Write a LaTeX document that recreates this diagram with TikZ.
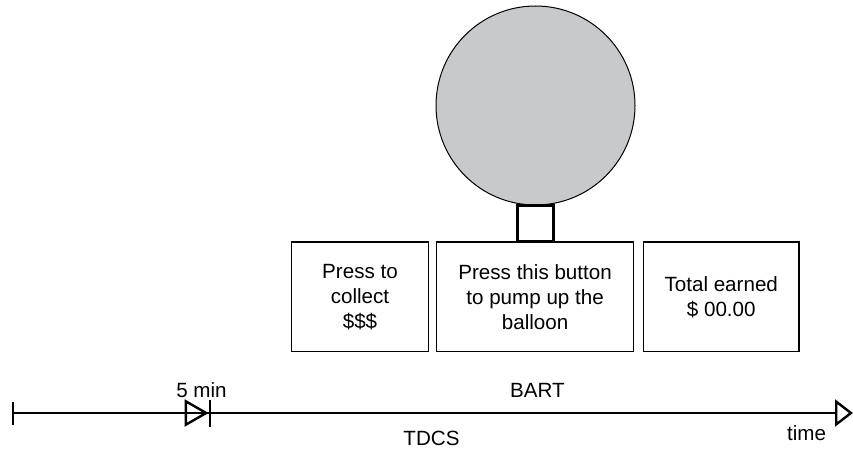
\documentclass[tikz,border=0pt]{standalone}
\usepackage{fontspec}
\setmainfont{Liberation Sans}
\usetikzlibrary{arrows.meta,positioning}

\definecolor{balloongray}{RGB}{200,201,203}

\begin{document}
\begin{tikzpicture}[x=1pt, y=-1pt, font=\fontsize{20.6}{25}\selectfont]
        \def \boxmid {296.75}
        \def \boxht {109.5}
        \def \liney {413}
        \def \radius {199pt}
        
        \useasboundingbox (0,0) rectangle (853,449);
        
        % balloon with its neck
        \node[draw, circle, fill=balloongray, line width=1, minimum size=\radius, inner sep=0] at (535.5,105.5) (balloon) {};
        \node[draw, line width=2.5, minimum width=36, minimum height=36, inner sep=0, outer sep=0, below=0pt of balloon] (neck) {};
        
        % the three panels under the balloon
        \foreach \cx/\w/\txt/\nm in {360/136.6/{Press to\\collect\\\$\$\$}/collect,
                                     535.1/196.8/{Press this button\\to pump up the\\balloon}/pump,
                                     721.25/155.5/{Total earned\\\$ 00.00}/total}{
          \node[draw, line width=1.2, minimum width=\w, minimum height=\boxht, inner sep=0, align=center] at (\cx,\boxmid) (\nm) {\txt};
        }
        
        % time line
        \coordinate (start) at (12,\liney);
        \coordinate (switch) at (211,\liney);
        \coordinate (finish) at (853,\liney);
        \draw[line width=2.4, {Bar[width=23pt]}-{Triangle[open,length=24pt,width=27pt]Bar[width=27pt]}] (start)--(switch);
        \draw[line width=2.4, -{Triangle[open,length=18pt,width=27pt]}] (switch)--(finish);
        
        \node at (201.5,390) (fivemin) {5 min};
        \node at (537.5,390) (bart) {BART};
        \node at (431.5,438) (tdcs) {TDCS};
        \node at (806.5,433) (timelabel) {time};
        \end{tikzpicture}
\end{document}
